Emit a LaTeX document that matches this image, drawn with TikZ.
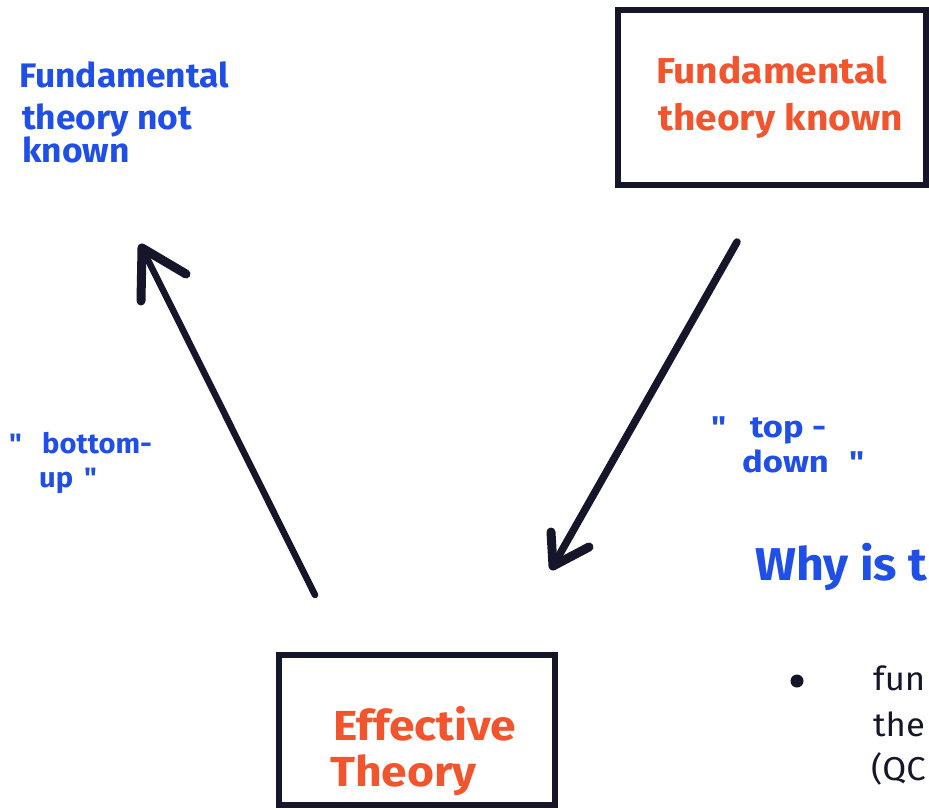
\documentclass[tikz,border=0pt]{standalone}
\usepackage{fontspec}
\setmainfont{Fira Sans}
\newfontfamily\handA[FakeStretch=1.04]{Fira Sans}
\newfontfamily\handB[FakeStretch=1.08]{Fira Sans}
\newfontfamily\handC[FakeStretch=1.10]{Fira Sans}
\newfontfamily\handD[FakeStretch=1.15]{Fira Sans}
\newfontfamily\handE[FakeStretch=1.05]{Fira Sans}
\definecolor{penblue}{HTML}{1F4FE6}
\definecolor{penred}{HTML}{F2542D}
\definecolor{penblack}{HTML}{16162A}
\tikzset{
  x=1pt, y=-1pt,
  pentxt/.style={inner sep=0pt, anchor=base west},
  bluetxt/.style={pentxt, text=penblue, font=\handA\bfseries\fontsize{34}{40}\selectfont},
  labtxt/.style={pentxt, text=penblue, font=\handD\bfseries\fontsize{30}{34}\selectfont},
  labtxtb/.style={pentxt, text=penblue, font=\handA\bfseries\fontsize{28}{34}\selectfont},
  redtxt/.style={pentxt, text=penred, font=\handB\bfseries\fontsize{36}{42}\selectfont},
  bigred/.style={pentxt, text=penred, font=\handC\bfseries\fontsize{42}{48}\selectfont},
  whytxt/.style={pentxt, text=penblue, font=\handE\bfseries\fontsize{46}{52}\selectfont},
  blacktxt/.style={pentxt, text=penblack, font=\handE\fontsize{33}{40}\selectfont},
  penbox/.style={draw=penblack, line width=6pt, inner sep=0pt},
  penarrow/.style={draw=penblack, line width=6.5pt, line cap=round, line join=round},
  penhead/.style={draw=penblack, line width=9pt, line cap=round, line join=round},
}
\begin{document}
\begin{tikzpicture}
\useasboundingbox (0,0) rectangle (929,809);
\clip (0,0) rectangle (929,809);
\fill[white] (0,0) rectangle (929,809);

% top-left text
\node[bluetxt] (ftnk1) at (19,87) {Fundamental};
\node[bluetxt] (ftnk2) at (22,129) {theory not};
\node[bluetxt] (ftnk3) at (22,162) {known};

% top-right box
\node[penbox, minimum width=308pt, minimum height=175pt] (ftk) at (772,97.5) {};
\node[redtxt] (ftk1) at (656,83) {Fundamental};
\node[redtxt] (ftk2) at (658,130) {theory known};

% bottom box
\node[penbox, minimum width=276pt, minimum height=150pt] (eft) at (416.5,730) {};
\node[bigred] (eft1) at (333,740) {Effective};
\node[bigred] (eft2) at (330,786) {Theory};

% arrow bottom-up
\coordinate (a1s) at (315,595);
\coordinate (a1t) at (142,248);
\coordinate (a1b) at (186,274);
\coordinate (a1c) at (141,301);
\draw[penarrow] (a1s) -- (a1t);
\draw[penhead] (a1b) -- (a1t) -- (a1c);

% arrow top-down
\coordinate (a2s) at (737,242);
\coordinate (a2t) at (553,566);
\coordinate (a2b) at (551,532);
\coordinate (a2c) at (589,547);
\draw[penarrow, line width=7.5pt] (a2s) -- (a2t);
\draw[penhead] (a2b) -- (a2t) -- (a2c);

% labels
\node[labtxtb] (bu1) at (9,453) {"};
\node[labtxtb] (bu2) at (42,453) {bottom-};
\node[labtxtb] (bu3) at (39,487) {up};
\node[labtxtb] (bu4) at (84,487) {"};
\node[labtxt] (td1) at (711,437) {"};
\node[labtxt] (td2) at (750,437) {top};
\node[labtxt] (td3) at (812,437) {-};
\node[labtxt] (td4) at (742,472) {down};
\node[labtxt] (td5) at (849,472) {"};

% right side
\node[whytxt] (why) at (755,580) {Why is t};
\fill[penblack] (797,681) circle (6.5pt);
\node[blacktxt] (bul1) at (873,690) {fun};
\node[blacktxt] (bul2) at (873,736) {the};
\node[blacktxt] (bul3) at (871,780) {(QC};
\end{tikzpicture}
\end{document}
